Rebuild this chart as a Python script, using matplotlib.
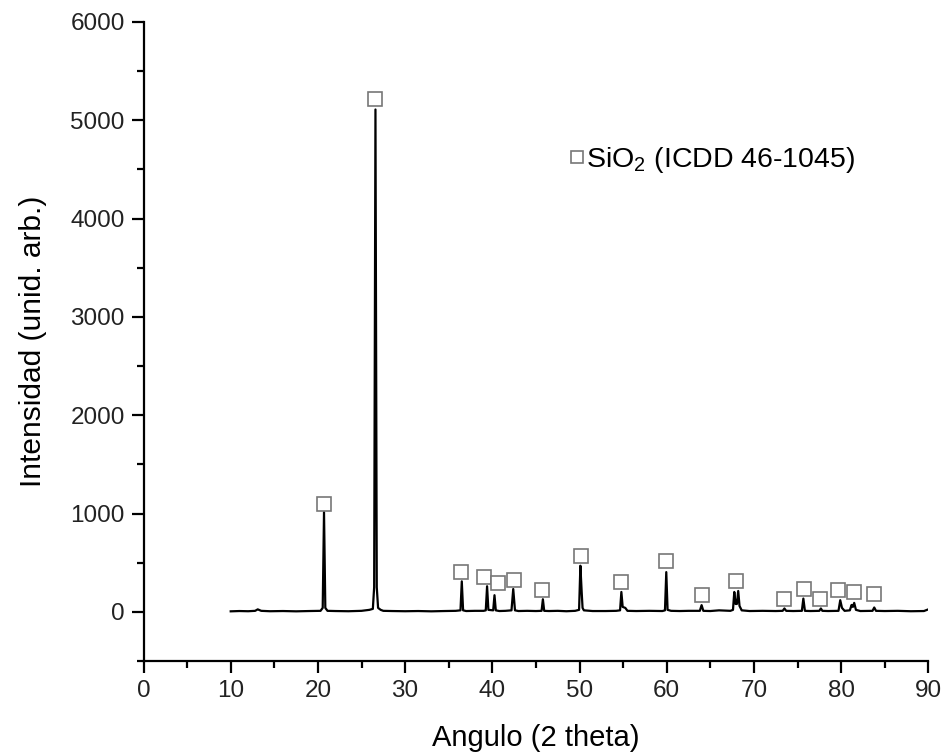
import numpy as np
import matplotlib.pyplot as plt

plt.rcParams['font.family'] = ['Liberation Sans', 'DejaVu Sans']
plt.rcParams['mathtext.fontset'] = 'custom'
plt.rcParams['mathtext.rm'] = 'Liberation Sans'

# difractograma (trazado)
theta = [10.0, 11.0, 12.0, 12.8, 13.1, 13.5, 14.5, 16.0, 17.5, 19.0,
         20.3, 20.55, 20.7, 20.85, 21.1, 22.0, 23.5, 25.0, 25.9, 26.3,
         26.45, 26.6, 26.75, 26.9, 27.2, 27.5, 28.5, 30.0, 31.5, 33.0,
         34.5, 35.8, 36.35, 36.5, 36.65, 37.0, 38.0, 39.0, 39.25, 39.4,
         39.55, 40.1, 40.25, 40.4, 40.8, 41.5, 42.2, 42.4, 42.6, 43.0,
         44.0, 45.0, 45.65, 45.8, 45.95, 46.5, 47.5, 48.5, 49.5, 49.95,
         50.1, 50.25, 50.35, 50.5, 51.5, 53.0, 54.2, 54.65, 54.8, 54.95,
         55.25, 55.5, 56.5, 58.0, 59.5, 59.8, 59.95, 60.1, 60.5, 61.5,
         62.5, 63.8, 64.0, 64.2, 65.0, 66.0, 67.3, 67.6, 67.75, 67.9,
         68.05, 68.2, 68.35, 68.6, 69.5, 71.0, 72.5, 73.3, 73.5, 73.7,
         74.5, 75.5, 75.67, 75.85, 76.5, 77.5, 77.68, 77.85, 78.5, 79.7,
         79.9, 80.1, 80.4, 81.0, 81.2, 81.35, 81.5, 81.7, 82.2, 83.6,
         83.8, 84.0, 85.0, 86.5, 88.0, 89.5, 90.0]
intens = [5, 8, 6, 10, 25, 10, 6, 8, 5, 8,
          10, 40, 1015, 40, 10, 8, 6, 10, 20, 30,
          250, 5110, 250, 40, 20, 10, 8, 6, 8, 5,
          8, 10, 15, 310, 15, 8, 10, 10, 15, 260,
          20, 15, 169, 15, 8, 10, 15, 232, 15, 8,
          10, 8, 10, 128, 10, 8, 10, 6, 10, 20,
          469, 200, 40, 15, 8, 8, 10, 15, 202, 50,
          40, 10, 8, 10, 8, 15, 404, 20, 10, 8,
          10, 10, 68, 10, 8, 15, 10, 20, 202, 80,
          80, 212, 60, 15, 8, 10, 8, 10, 34, 10,
          8, 10, 135, 10, 8, 10, 34, 10, 8, 10,
          118, 40, 10, 15, 70, 50, 91, 20, 8, 10,
          44, 10, 8, 10, 6, 8, 25]

# marcas SiO2
mark_theta = [20.75, 26.55, 36.45, 39.0, 40.6, 42.5, 45.75, 50.15, 54.75,
              59.9, 64.0, 68.0, 73.4, 75.7, 77.6, 79.7, 81.45, 83.8]
mark_int = [1100, 5215, 404, 354, 293, 327, 226, 566, 300,
            512, 169, 313, 128, 236, 128, 226, 199, 179]

fig = plt.figure(figsize=(9.46, 7.56), dpi=100)
ax = fig.add_axes([0.1517, 0.1257, 0.8296, 0.8452])

ax.plot(theta, intens, color='black', lw=1.6)
ax.plot(mark_theta, mark_int, ls='none', marker='s', ms=10, mfc='white',
        mec='#777777', mew=1.2)

# leyenda
ax.plot([49.7], [4630], ls='none', marker='s', ms=8.5, mfc='white',
        mec='#777777', mew=1.2)
ax.text(50.8, 4600, r'SiO$_\mathregular{2}$ (ICDD 46-1045)', fontsize=20.5,
        va='center', ha='left')

ax.set_xlim(0, 90)
ax.set_ylim(-500, 6000)
ax.set_xticks(np.arange(0, 91, 10))
ax.set_xticks(np.arange(5, 90, 10), minor=True)
ax.set_yticks(np.arange(0, 6001, 1000))
ax.set_yticks(np.arange(-500, 6000, 1000), minor=True)

for s in ['top', 'right']:
    ax.spines[s].set_visible(False)
for s in ['left', 'bottom']:
    ax.spines[s].set_linewidth(1.6)

ax.tick_params(which='major', direction='out', length=8.5, width=1.6,
               labelsize=17.5, labelcolor='#222222', pad=5)
ax.tick_params(which='minor', direction='out', length=5, width=1.6)

ax.set_xlabel('Angulo (2 theta)', fontsize=21, labelpad=16)
ax.set_ylabel('Intensidad (unid. arb.)', fontsize=21.5, labelpad=17)

fig.savefig('out.png', dpi=100)
